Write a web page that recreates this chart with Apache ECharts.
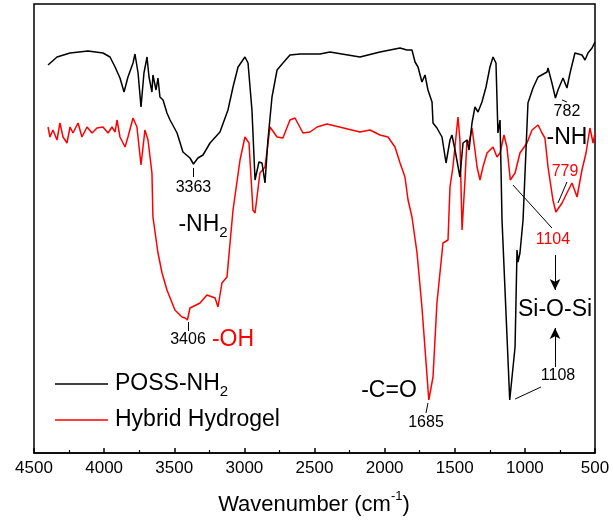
<!DOCTYPE html>
<html><head><meta charset="utf-8">
<script src="https://cdn.jsdelivr.net/npm/echarts@6/dist/echarts.min.js"></script>
<style>html,body{margin:0;padding:0;background:#fff}#c{width:613px;height:528px}</style>
</head><body><div id="c"></div>
<script>
// ---- data (wavenumber in cm-1, transmittance in arbitrary units) ----
const possX = [4400,4336,4243,4115,4008,3958,3922,3887,3858,3830,3794,3780,3758,3737,3716,3694,3680,3659,3652,3630,3616,3602,3580,3552,3530,3480,3438,3388,3363,3331,3295,3245,3174,3117,3081,3045,2996,2974,2946,2924,2896,2874,2853,2832,2803,2767,2725,2675,2603,2461,2390,2176,2033,1890,1841,1805,1783,1762,1734,1712,1691,1662,1655,1627,1591,1562,1534,1520,1498,1463,1441,1413,1398,1377,1356,1334,1306,1277,1249,1227,1206,1192,1177,1163,1108,1070,1056,1049,1035,1013,978,942,906,842,835,807,782,764,728,700,678,643,593,571,550,521,500];
const possY = [388,396,400,402,400,396,386,375,361,376,390,399,380,346,380,396,376,361,378,363,375,356,353,340,333,320,301,295,289,295,298,310,321,343,366,386,396,390,343,273,291,290,270,313,356,383,390,398,399,399,401,396,401,405,403,403,391,386,371,378,363,351,330,325,316,290,313,318,303,276,310,313,303,330,346,341,351,366,386,396,390,320,333,233,53,106,203,191,200,233,350,365,376,381,385,370,355,363,375,365,380,400,398,393,400,405,411];
const hydroX = [4400,4386,4365,4336,4315,4293,4265,4243,4222,4186,4158,4122,4086,4051,4008,3972,3944,3922,3908,3887,3851,3830,3794,3766,3737,3709,3687,3659,3652,3616,3587,3552,3495,3445,3423,3406,3388,3316,3267,3209,3188,3160,3124,3081,3031,2996,2967,2939,2924,2889,2853,2817,2767,2725,2675,2639,2582,2532,2482,2411,2176,2104,2033,1976,1926,1890,1855,1833,1805,1769,1734,1685,1655,1627,1584,1548,1534,1513,1477,1463,1448,1427,1413,1398,1377,1356,1341,1320,1299,1270,1227,1199,1177,1149,1128,1104,1070,1035,985,949,906,878,857,835,800,779,735,700,664,628,593,564,536,514,500];
const hydroY = [326,316,323,313,330,316,310,326,320,330,316,326,320,325,326,320,326,321,333,316,306,316,335,326,288,323,313,280,236,200,180,163,143,136,135,133,145,150,158,155,146,170,176,243,293,316,310,243,240,280,286,326,316,315,333,335,320,321,326,329,321,323,318,316,306,290,276,253,236,200,146,53,76,150,210,213,266,286,336,313,223,273,313,310,325,303,286,273,286,300,306,296,300,318,306,273,280,300,310,323,328,320,315,286,253,241,250,260,270,256,283,300,325,310,320];
const seriesNames = ['POSS-NH2', 'Hybrid Hydrogel'];
const seriesColors = ['#000000', '#ff0000'];
const xMin = 500, xMax = 4500, xStep = 500;
const axisTitle = 'Wavenumber (cm';
// annotation texts anchored in data coordinates
const annTexts = ['3363', '-NH', '3406', '-OH', '-C=O', '1685', '1108', 'Si-O-Si', '1104', '779', '782', '-NH'];
const annX =     [3363,   3295,  3402,   3081,  1969,   1705,   764,    785,       800,    714,   700,   700];
const annY =     [265,    228,   113,    113,   62,     30,     77,     143,       213,    281,   341,   315];
const annSub =   ['',     '2',   '',     '',    '',     '',     '',     '',        '',     '',    '',    ''];
const annBig =   [0,1,0,1,1,0,0,1,0,0,0,1];
const annRed =   [0,0,0,1,0,0,0,0,1,1,0,0];
// leader lines [x1,y1,x2,y2]
const leaders = [[3363,285,3363,276],[3402,131,3402,122],[1691,50,1705,40],[1070,54,885,66],[1085,268,807,225],[700,271,764,250],[735,353,700,351]];
// arrows [x1,y1,x2,y2], head at end
const arrows = [[785,198,785,163],[785,86,785,125]];

const FONT = '"Liberation Sans", Arial, Helvetica, sans-serif';
const chart = echarts.init(document.getElementById('c'), null, {renderer: 'canvas'});

const mlData = [];
leaders.forEach(l => mlData.push([{coord: [l[0], l[1]], symbol: 'none'}, {coord: [l[2], l[3]], symbol: 'none'}]));
arrows.forEach(a => mlData.push([{coord: [a[0], a[1]], symbol: 'none'}, {coord: [a[2], a[3]], symbol: 'arrow', symbolSize: [8, 11]}]));

const option = {
  animation: false,
  grid: {left: 34, right: 18, top: 4, bottom: 75, show: true, borderColor: '#000', borderWidth: 1.5, backgroundColor: 'transparent'},
  xAxis: {
    type: 'value', inverse: true, min: xMin, max: xMax, interval: xStep,
    axisLine: {show: true, onZero: false, lineStyle: {color: '#000', width: 1.5}},
    axisTick: {show: true, inside: true, length: 5, lineStyle: {color: '#000', width: 1.5}},
    minorTick: {show: true, splitNumber: 2, length: 3, lineStyle: {color: '#000', width: 1.2}},
    axisLabel: {color: '#000', fontSize: 17, fontFamily: FONT, margin: 7, formatter: v => String(v)},
    splitLine: {show: false}, minorSplitLine: {show: false}
  },
  yAxis: {type: 'value', min: 0, max: 449, show: false},
  series: [
    {
      name: seriesNames[0], type: 'line', showSymbol: false, symbol: 'none',
      data: possX.map((x, i) => [x, possY[i]]),
      lineStyle: {color: seriesColors[0], width: 1.5}, itemStyle: {color: seriesColors[0]},
      markLine: {silent: true, animation: false, label: {show: false}, lineStyle: {color: '#000', width: 1, type: 'solid'}, emphasis: {disabled: true}, data: mlData},
      z: 3
    },
    {
      name: seriesNames[1], type: 'line', showSymbol: false, symbol: 'none',
      data: hydroX.map((x, i) => [x, hydroY[i]]),
      lineStyle: {color: seriesColors[1], width: 1.5}, itemStyle: {color: seriesColors[1]},
      z: 2
    }
  ]
};
chart.setOption(option);

const graphics = [];
annTexts.forEach((t, i) => {
  const p = chart.convertToPixel({xAxisIndex: 0, yAxisIndex: 0}, [annX[i], annY[i]]);
  const col = annRed[i] ? '#ff0000' : '#000000';
  const fs = annBig[i] ? 23 : 16;
  let text = '{a|' + t + '}';
  if (annSub[i]) text += '{s|' + annSub[i] + '}';
  graphics.push({
    type: 'text', x: p[0], y: p[1], z: 10,
    style: {
      text: text, align: 'center', verticalAlign: 'middle', fill: col,
      rich: {
        a: {fontSize: fs, fontFamily: FONT, fill: col, lineHeight: 30},
        s: {fontSize: 15, fontFamily: FONT, fill: col, lineHeight: 15, verticalAlign: 'bottom'}
      }
    }
  });
});
// legend (drawn manually)
const legendRows = [384, 420];
seriesNames.forEach((n, i) => {
  graphics.push({type: 'line', shape: {x1: 55, y1: legendRows[i], x2: 108, y2: legendRows[i]}, style: {stroke: seriesColors[i], lineWidth: 1.5}, z: 10});
  const txt = n === 'POSS-NH2' ? '{a|POSS-NH}{s|2}' : '{a|' + n + '}';
  graphics.push({type: 'text', x: 115, y: legendRows[i], z: 10, style: {
    text: txt, align: 'left', verticalAlign: 'middle', fill: '#000',
    rich: {
      a: {fontSize: 23, fontFamily: FONT, fill: '#000', lineHeight: 30},
      s: {fontSize: 15, fontFamily: FONT, fill: '#000', lineHeight: 15, verticalAlign: 'bottom'}
    }
  }});
});
// axis title
graphics.push({type: 'text', x: 314, y: 505, z: 10, style: {
  text: '{a|' + axisTitle + '}{b|-1}{a|)}', align: 'center', verticalAlign: 'middle', fill: '#000',
  rich: {
    a: {fontSize: 22, fontFamily: FONT, fill: '#000', lineHeight: 30},
    b: {fontSize: 13, fontFamily: FONT, fill: '#000', lineHeight: 13, verticalAlign: 'top'}
  }
}});
chart.setOption({graphic: graphics});
</script>
</body></html>
